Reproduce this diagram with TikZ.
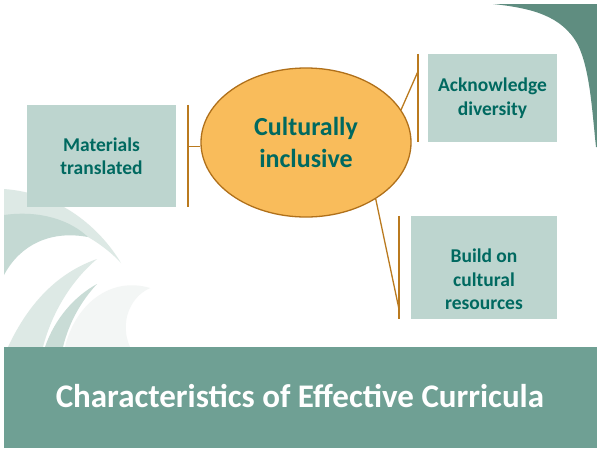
\documentclass[tikz,border=0pt]{standalone}
\usepackage{fontspec}
\setmainfont{Carlito}
\usetikzlibrary{shapes.geometric}
\definecolor{tealtxt}{HTML}{006960}
\definecolor{boxfill}{HTML}{BDD5CF}
\definecolor{ovalfill}{HTML}{F9BC5B}
\definecolor{ovaldraw}{HTML}{B0701A}
\definecolor{brkcol}{HTML}{BA7A1F}
\definecolor{barcol}{HTML}{6FA094}
\definecolor{cornercol}{HTML}{5F8D80}
\definecolor{swA}{HTML}{DDE9E5}
\definecolor{swB}{HTML}{C4D9D3}
\definecolor{swD}{HTML}{C9DCD6}
\definecolor{swE}{HTML}{F3F6F5}
\tikzset{
  itembox/.style={fill=boxfill, draw=none, inner sep=0pt, text=tealtxt,
    font=\bfseries\fontsize{19.5}{23.4}\selectfont, align=center},
  itemtext/.style={text=tealtxt, font=\bfseries\fontsize{19.5}{23.4}\selectfont, align=center, inner sep=0pt},
  oval/.style={ellipse, fill=ovalfill, draw=ovaldraw, line width=1.3pt, inner sep=0pt,
    minimum width=210pt, minimum height=149pt, text=tealtxt,
    font=\bfseries\fontsize{26}{32}\selectfont, align=center},
  brk/.style={draw=brkcol, line width=1.6pt},
  conn/.style={draw=brkcol, line width=1.3pt},
}
\begin{document}
\begin{tikzpicture}[x=1pt,y=-1pt]
\useasboundingbox (0,0) rectangle (597,448);
\fill[white] (0,0) rectangle (597,448);
% decorative swooshes (left)
\fill[swA] (4,189) .. controls (60,193) and (100,228) .. (121,263) .. controls (98,238) and (55,214) .. (4,215) -- cycle;
\fill[swB] (4,215) .. controls (40,210) and (70,220) .. (88,237) .. controls (50,230) and (20,245) .. (4,275) -- cycle;
\fill[swA] (8,347) .. controls (30,300) and (60,272) .. (97,259) .. controls (72,280) and (52,312) .. (43,347) -- cycle;
\fill[swD] (45,347) .. controls (55,318) and (75,296) .. (97,284) .. controls (82,300) and (69,322) .. (63,347) -- cycle;
\fill[swE] (65,347) .. controls (75,305) and (110,276) .. (150,288) .. controls (128,298) and (120,325) .. (130,347) -- cycle;
% top-right corner shape
\fill[cornercol] (493,4) -- (597,4) -- (597,147) -- (596,147) .. controls (592,110) and (590,70) .. (578,45) .. controls (562,15) and (530,8) .. (493,4) -- cycle;
% bottom title bar
\fill[barcol] (4,347) rectangle (597,448);
\node[text=white, font=\bfseries\fontsize{33}{40}\selectfont, anchor=base, inner sep=0pt] (title) at (300,407) {Characteristics of Effective Curricula};
% boxes
\node[itembox, minimum width=149pt, minimum height=102pt] (mat) at (101.5,156) {Materials\\translated};
\node[itembox, minimum width=129pt, minimum height=88pt] (ack) at (492.5,98) {Acknowledge\\diversity};
\node[itembox, minimum width=146pt, minimum height=103pt] (build) at (484,267.5) {};
\node[itemtext] (buildtxt) at ([yshift=-12pt]build.center) {Build on\\cultural\\resources};
% central ellipse
\node[oval] (e) at (306,142.5) {Culturally\\inclusive};
% brackets
\coordinate (matT) at ([xshift=12pt]mat.north east);
\coordinate (matB) at ([xshift=12pt]mat.south east);
\coordinate (ackT) at ([xshift=-10pt]ack.north west);
\coordinate (ackB) at ([xshift=-10pt]ack.south west);
\coordinate (bldT) at ([xshift=-12pt]build.north west);
\coordinate (bldB) at ([xshift=-12pt]build.south west);
\draw[brk] (matT) -- (matB);
\draw[brk] (ackT) -- (ackB);
\draw[brk] (bldT) -- (bldB);
% connectors
\coordinate (matJ) at ([yshift=-4pt]matT |- e.west);
\draw[conn] (matJ) -- (e.west |- matJ);
\coordinate (ackJ) at ([yshift=-18pt]ackT);
\draw[conn] (e.19) -- (ackJ);
\coordinate (bldJ) at ([yshift=11pt]bldB);
\draw[conn] (e.-39) -- (bldJ);
\end{tikzpicture}
\end{document}
